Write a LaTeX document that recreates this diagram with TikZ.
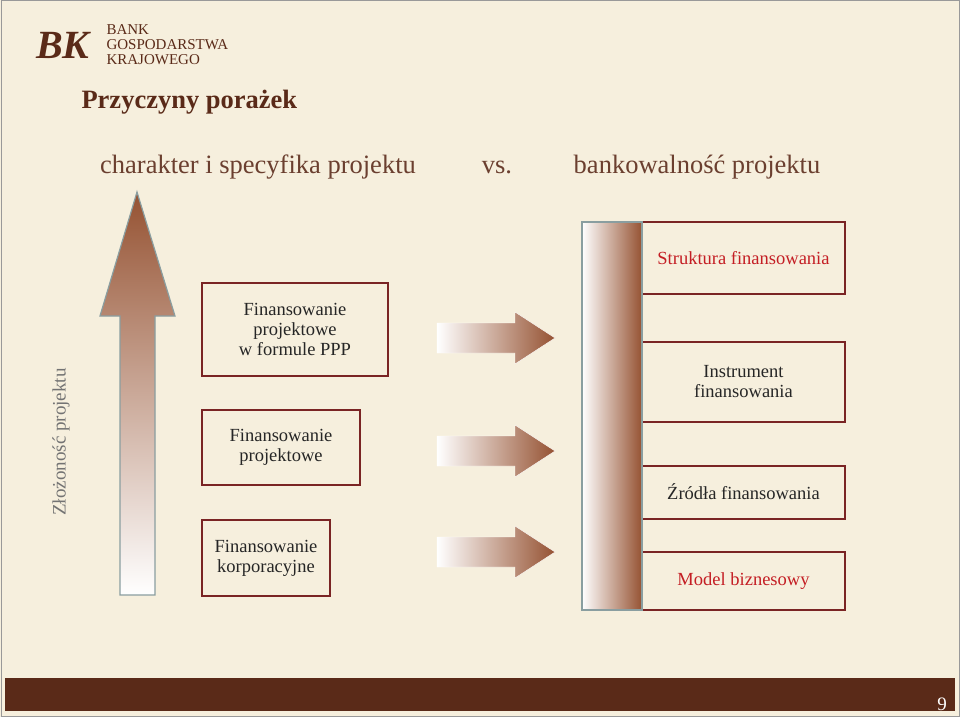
\documentclass[tikz,border=0pt]{standalone}
\usepackage{fontspec}
\setmainfont{Liberation Serif}
\usetikzlibrary{positioning}
\definecolor{cream}{HTML}{F6EFDD}
\definecolor{darkbrown}{HTML}{5A2A18}
\definecolor{boxred}{HTML}{7A2424}
\definecolor{rust}{HTML}{955232}
\definecolor{bargray}{HTML}{8A9EA0}
\definecolor{titlered}{HTML}{C41E24}
\tikzset{
  box/.style={draw=boxred,line width=1.6pt,align=center,font=\fontsize{18.5}{20}\selectfont,text=black!85},
  greyline/.style={draw=bargray,line width=1.2pt}
}
\begin{document}
\begin{tikzpicture}[x=1pt,y=-1pt]
\useasboundingbox (0,0) rectangle (960,717);
%
\fill[cream] (0,0) rectangle (960,717);
\draw[black!40,line width=1pt] (1,1) rectangle (959,716);
\fill[darkbrown] (5,678) rectangle (955,711);
\node[text=white,font=\fontsize{19}{19}\selectfont] (pg) at (942,704) {9};
%
\node[text=darkbrown,font=\fontsize{40}{40}\selectfont\bfseries] (logo) at (64,45) {\textit{BK}};
\node[text=darkbrown,anchor=west,align=left,font=\fontsize{15}{15}\selectfont] (bank) at (103,45) {BANK\\GOSPODARSTWA\\KRAJOWEGO};
\node[text=darkbrown,anchor=west,font=\fontsize{26.5}{26}\selectfont\bfseries] (title) at (78,102) {Przyczyny porażek};
%
\node[font=\fontsize{26.5}{26}\selectfont,text=darkbrown!90] (left) at (258,167) {charakter i specyfika projektu};
\node[font=\fontsize{26.5}{26}\selectfont,text=darkbrown!90] (vs) at (497,167) {vs.};
\node[font=\fontsize{26.5}{26}\selectfont,text=darkbrown!90] (right) at (697,167) {bankowalność projektu};
%
\shade[top color=rust,bottom color=white,greyline]
  (137,192) -- (175,316) -- (155,316) -- (155,595) -- (120,595) -- (120,316) -- (100,316) -- cycle;
\node[rotate=90,text=black!55,font=\fontsize{19}{19}\selectfont] (zl) at (61,442) {Złożoność projektu};
%
\node[box,minimum width=186pt,minimum height=93pt] (ppp) at (295,329.5) {Finansowanie\\projektowe\\w formule PPP};
\node[box,minimum width=158pt,minimum height=75pt] (pf) at (281,447.5) {Finansowanie\\projektowe};
\node[box,minimum width=128pt,minimum height=76pt] (kf) at (266,558) {Finansowanie\\korporacyjne};
%
\foreach \yy in {338,451,552}{
  \shade[left color=white,right color=rust,draw=white]
    (437,\yy-15) -- (515,\yy-15) -- (515,\yy-26) -- (555,\yy) -- (515,\yy+26) -- (515,\yy+15) -- (437,\yy+15) -- cycle;
}
%
\node[box,minimum width=203pt,minimum height=72pt,text=titlered] (sf) at (743.5,258) {Struktura finansowania};
\node[box,minimum width=203pt,minimum height=80pt] (inst) at (743.5,382) {Instrument\\finansowania};
\node[box,minimum width=203pt,minimum height=53pt,anchor=north] (zr) at (743.5,465) {};
\node[font=\fontsize{18.5}{20}\selectfont,text=black!85] (zrt) at (743.5,492) {Źródła finansowania};
\node[box,minimum width=203pt,minimum height=58pt,text=titlered] (mb) at (743.5,581) {Model biznesowy};
%
\shade[left color=white,right color=rust,greyline] (582,222) rectangle (642,610);
\end{tikzpicture}
\end{document}
